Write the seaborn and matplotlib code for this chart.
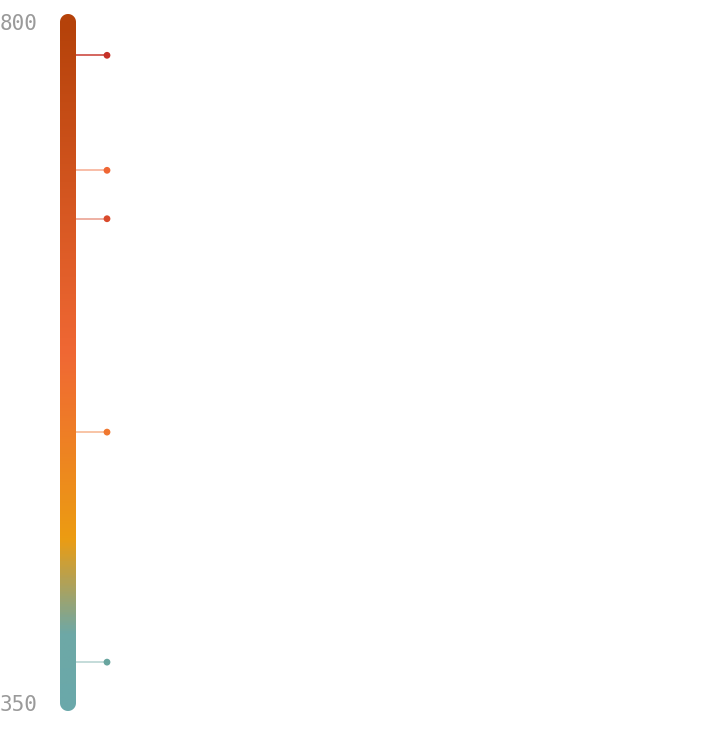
import numpy as np
import pandas as pd
import matplotlib
matplotlib.use("Agg")
import matplotlib.pyplot as plt
import seaborn as sns
from matplotlib.colors import LinearSegmentedColormap
from matplotlib.patches import Polygon

# scale range
v_min, v_max = 350, 800

# gradient stops (value, colour)
stop_values = [350, 395, 458, 580, 800]
stop_colors = ["#6aa8aa", "#6ea8a6", "#ec9c12", "#f06834", "#b5420a"]

# marked values
mark_values = [778, 702, 670, 529, 377]
mark_colors = ["#c63228", "#ef6634", "#d94a2c", "#f07830", "#68a59f"]
line_alpha = [0.95, 0.55, 0.55, 0.55, 0.5]

# layout (pixels)
W, H, DPI = 713, 731, 100
px_top, px_bottom = 22, 703          # where 800 and 350 sit
bar_x0, bar_x1, dot_x = 60, 76, 107
cap = 8

sns.set_style("white")
plt.rcParams['font.family'] = ['DejaVu Sans Mono', 'DejaVu Sans']

fig = plt.figure(figsize=(W / DPI, H / DPI), dpi=DPI)
ax = fig.add_axes([0, 0, 1, 1])

vpp = (v_max - v_min) / (px_bottom - px_top)   # value per pixel
ylim = (v_max - (H - px_top) * vpp, v_max + px_top * vpp)

# rounded bar outline (semicircle caps), used as clip path
cx = (bar_x0 + bar_x1) / 2
t_top = np.linspace(0, np.pi, 40)
t_bot = np.linspace(np.pi, 2 * np.pi, 40)
outline = np.vstack([
    np.column_stack([cx + cap * np.cos(t_top), v_max + cap * vpp * np.sin(t_top)]),
    np.column_stack([cx + cap * np.cos(t_bot), v_min + cap * vpp * np.sin(t_bot)]),
])
patch = Polygon(outline, closed=True, facecolor="none", edgecolor="none")
ax.add_patch(patch)

cmap = LinearSegmentedColormap.from_list(
    "scale",
    [((v - v_min) / (v_max - v_min), c) for v, c in zip(stop_values, stop_colors)])
cap_v = cap * vpp
grad = np.linspace(v_min - cap_v, v_max + cap_v, 600).reshape(-1, 1)
im = ax.imshow(grad, cmap=cmap, vmin=v_min, vmax=v_max, origin="lower",
               extent=[bar_x0, bar_x1, v_min - cap_v, v_max + cap_v],
               aspect="auto", interpolation="bilinear")
im.set_clip_path(patch)

# marker lines and dots
for v, c, a in zip(mark_values, mark_colors, line_alpha):
    ax.plot([bar_x1, dot_x], [v, v], color=c, alpha=a, lw=1.1,
            solid_capstyle="butt", zorder=3)
df = pd.DataFrame({"x": [dot_x] * len(mark_values), "value": mark_values,
                   "c": mark_colors})
sns.scatterplot(data=df, x="x", y="value", hue="c",
                palette=dict(zip(mark_colors, mark_colors)),
                s=24, edgecolor="none", legend=False, ax=ax, zorder=4)

ax.set_xlim(0, W)
ax.set_ylim(*ylim)
ax.axis("off")

# end labels
ax.text(0, v_max, str(v_max), ha="left", va="center_baseline", fontsize=15,
        color="#9a9a9a")
ax.text(0, v_min, str(v_min), ha="left", va="center_baseline", fontsize=15,
        color="#9a9a9a")

fig.savefig("out.png", dpi=DPI)
